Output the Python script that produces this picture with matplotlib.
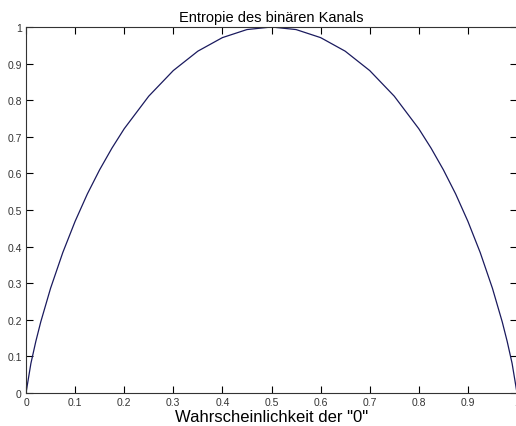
import matplotlib.pyplot as plt

# probability of "0" and read-off entropy values
p = [0, 0.01, 0.02, 0.03, 0.05, 0.075, 0.1, 0.125, 0.15, 0.175, 0.2, 0.25, 0.3, 0.35, 0.4, 0.45, 0.5,
     0.55, 0.6, 0.65, 0.7, 0.75, 0.8, 0.825, 0.85, 0.875, 0.9, 0.925, 0.95, 0.97, 0.98, 0.99, 1]
h = [0, 0.081, 0.141, 0.194, 0.286, 0.384, 0.469, 0.544, 0.610, 0.669, 0.722, 0.811, 0.881, 0.934,
     0.971, 0.993, 1.0, 0.993, 0.971, 0.934, 0.881, 0.811, 0.722, 0.669, 0.610, 0.544, 0.469, 0.384,
     0.286, 0.194, 0.141, 0.081, 0]

xticks = [0, 0.1, 0.2, 0.3, 0.4, 0.5, 0.6, 0.7, 0.8, 0.9, 1]
xticklabels = ["0", "0.1", "0.2", "0.3", "0.4", "0.5", "0.6", "0.7", "0.8", "0.9", "1"]
yticks = [0, 0.1, 0.2, 0.3, 0.4, 0.5, 0.6, 0.7, 0.8, 0.9, 1]
yticklabels = ["0", "0.1", "0.2", "0.3", "0.4", "0.5", "0.6", "0.7", "0.8", "0.9", "1"]

plt.rcParams["font.family"] = ["Liberation Sans", "DejaVu Sans"]

fig = plt.figure(figsize=(5.16, 4.27), dpi=100)
ax = fig.add_axes([26 / 516, 33 / 427, 491 / 516, 366 / 427])

ax.plot(p, h, color="#1a1a5e", linewidth=0.9)

ax.set_xlim(0, 1)
ax.set_ylim(0, 1)
ax.set_xticks(xticks)
ax.set_xticklabels(xticklabels)
ax.set_yticks(yticks)
ax.set_yticklabels(yticklabels)
ax.tick_params(direction="in", length=5, width=0.8, labelsize=7.5,
               labelcolor="#333333", top=True, right=True, pad=3)
for s in ax.spines.values():
    s.set_linewidth(0.8)
    s.set_color("#333333")

ax.set_title("Entropie des binären Kanals", fontsize=10.5, pad=4)
ax.set_xlabel('Wahrscheinlichkeit der "0"', fontsize=12, labelpad=1)

fig.savefig("out.png", dpi=100)
